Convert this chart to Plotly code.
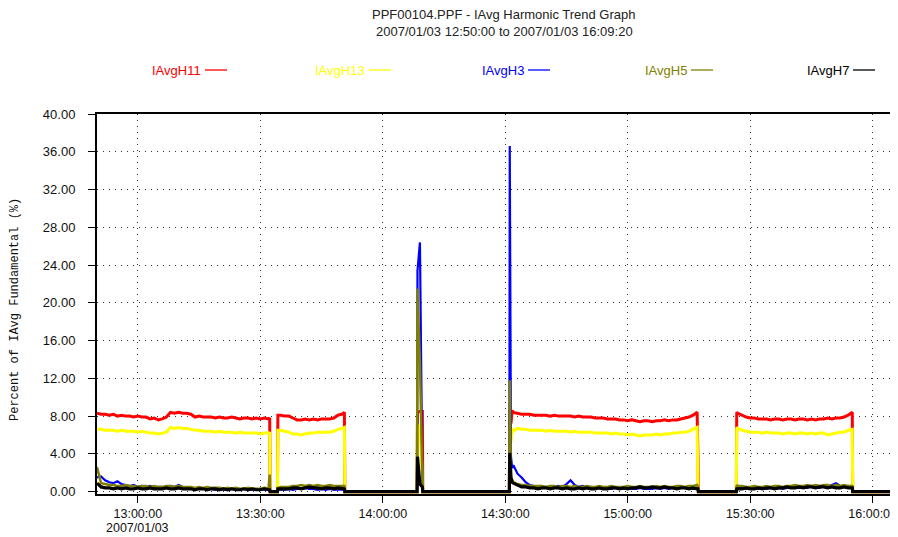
import plotly.graph_objects as go
import pandas as pd

# ---------------- data ----------------
START = "2007-01-03 12:50:00"
# sample times, minutes after 12:50:00 (gaps where the recorder was off)
minutes = (list(range(0, 43)) + [42.3, 42.4] +
           [44.2, 44.3] + list(range(45, 61)) + [60.6, 60.7] +
           [78.4, 78.5, 79.1, 79.7, 79.8] +
           [101.0, 101.1, 101.4, 101.7] + list(range(102, 148)) + [147.2, 147.3] +
           [156.6, 156.7] + list(range(157, 186)) + [185.1, 196])

h11 = [8.3, 8.2, 8.2, 8.1, 8.2, 8.0, 8.1, 8.0, 8.0, 7.9,
       8.0, 7.9, 7.9, 7.7, 7.8, 7.6, 7.7, 7.9, 8.4, 8.3,
       8.4, 8.3, 8.3, 8.2, 7.9, 8.0, 7.9, 7.9, 7.9, 7.8,
       7.9, 7.8, 7.8, 7.9, 7.8, 7.7, 7.8, 7.8, 7.7, 7.8,
       7.7, 7.8, 7.7, 7.8, 0,
       0, 8.1, 8.1, 8.0, 8.0, 7.8, 7.6, 7.6, 7.7, 7.6, 7.7, 7.6, 7.7, 7.7, 7.7, 7.8, 8.1, 8.2, 8.4, 0,
       0, 8.4, 8.5, 8.5, 0,
       0, 8.6, 7.2, 8.6,
       8.4, 8.3, 8.2, 8.2, 8.2, 8.1, 8.1, 8.1, 8.1, 8.0,
       8.1, 8.0, 8.0, 8.0, 8.0, 7.9, 8.0, 7.9, 7.9, 7.9,
       7.8, 7.8, 7.8, 7.7, 7.7, 7.7, 7.6, 7.6, 7.5, 7.6,
       7.5, 7.4, 7.5, 7.5, 7.4, 7.5, 7.5, 7.6, 7.5, 7.6,
       7.6, 7.7, 7.8, 7.9, 8.1, 8.4, 3.6, 0,
       0, 8.4,
       8.3, 8.1, 7.9, 7.8, 7.8, 7.7, 7.7, 7.7, 7.6, 7.7,
       7.7, 7.6, 7.7, 7.7, 7.6, 7.7, 7.7, 7.6, 7.7, 7.6,
       7.7, 7.7, 7.8, 7.7, 7.8, 7.8, 7.9, 8.1, 8.4, 0, 0]

h13 = [6.6, 6.6, 6.5, 6.5, 6.5, 6.4, 6.5, 6.4, 6.4, 6.4,
       6.3, 6.4, 6.3, 6.2, 6.2, 6.1, 6.2, 6.3, 6.8, 6.7,
       6.8, 6.7, 6.7, 6.6, 6.5, 6.5, 6.4, 6.4, 6.4, 6.3,
       6.4, 6.3, 6.3, 6.3, 6.2, 6.3, 6.2, 6.2, 6.2, 6.2,
       6.1, 6.2, 6.2, 6.3, 0,
       0, 6.5, 6.5, 6.4, 6.3, 6.1, 6.1, 6.0, 6.1, 6.2, 6.2, 6.3, 6.3, 6.3, 6.3, 6.4, 6.6, 6.7, 6.8, 0,
       0, 7.0, 6.9, 1.3, 0,
       0, 6.8, 5.3, 6.7,
       6.4, 6.7, 6.6, 6.6, 6.5, 6.5, 6.5, 6.5, 6.4, 6.5,
       6.4, 6.4, 6.4, 6.4, 6.3, 6.4, 6.3, 6.3, 6.3, 6.3,
       6.2, 6.2, 6.2, 6.2, 6.1, 6.2, 6.1, 6.1, 6.0, 6.1,
       6.0, 5.9, 6.0, 6.0, 6.0, 6.1, 6.0, 6.1, 6.1, 6.2,
       6.2, 6.3, 6.3, 6.4, 6.6, 6.8, 0.5, 0,
       0, 6.8,
       6.7, 6.5, 6.4, 6.3, 6.3, 6.3, 6.2, 6.3, 6.2, 6.2,
       6.2, 6.1, 6.2, 6.2, 6.1, 6.2, 6.2, 6.1, 6.2, 6.1,
       6.2, 6.2, 6.0, 6.1, 6.2, 6.3, 6.3, 6.5, 6.6, 0, 0]

h3 = [1.5, 1.6, 1.2, 1.0, 0.9, 1.1, 0.8, 0.7, 0.6, 0.7,
      0.5, 0.6, 0.5, 0.6, 0.4, 0.5, 0.5, 0.4, 0.6, 0.5,
      0.7, 0.5, 0.4, 0.4, 0.3, 0.4, 0.3, 0.4, 0.3, 0.2,
      0.3, 0.2, 0.2, 0.3, 0.2, 0.2, 0.3, 0.2, 0.2, 0.2,
      0.3, 0.2, 0.2, 0.2, 0,
      0, 0.2, 0.2, 0.2, 0.3, 0.2, 0.3, 0.3, 0.4, 0.3, 0.3, 0.2, 0.3, 0.2, 0.3, 0.2, 0.2, 0.2, 0.2, 0,
      0, 23.4, 26.4, 1.0, 0,
      0, 36.6, 3.7, 2.5,
      2.8, 1.9, 1.5, 1.0, 0.7, 0.6, 0.5, 0.4, 0.5, 0.4,
      0.5, 0.6, 0.5, 0.8, 1.2, 0.7, 0.5, 0.6, 0.4, 0.5,
      0.4, 0.4, 0.3, 0.4, 0.3, 0.4, 0.3, 0.3, 0.4, 0.3,
      0.3, 0.4, 0.3, 0.3, 0.3, 0.4, 0.3, 0.4, 0.3, 0.4,
      0.5, 0.4, 0.4, 0.3, 0.3, 0.3, 0.2, 0,
      0, 0.3,
      0.5, 0.4, 0.3, 0.4, 0.3, 0.3, 0.4, 0.3, 0.4, 0.3,
      0.4, 0.3, 0.4, 0.5, 0.4, 0.4, 0.5, 0.4, 0.6, 0.5,
      0.4, 0.6, 0.5, 0.7, 0.9, 0.6, 0.5, 0.6, 0.5, 0, 0]

h5 = [2.6, 0.9, 0.8, 0.7, 0.7, 0.6, 0.6, 0.7, 0.6, 0.6,
      0.5, 0.6, 0.6, 0.5, 0.6, 0.5, 0.5, 0.6, 0.6, 0.5,
      0.6, 0.5, 0.5, 0.5, 0.4, 0.5, 0.4, 0.5, 0.4, 0.4,
      0.4, 0.3, 0.4, 0.3, 0.4, 0.3, 0.3, 0.4, 0.3, 0.3,
      0.3, 0.4, 0.3, 1.8, 0,
      0, 0.4, 0.5, 0.5, 0.5, 0.6, 0.6, 0.7, 0.6, 0.7, 0.6, 0.7, 0.6, 0.6, 0.7, 0.6, 0.6, 0.6, 0.6, 0,
      0, 21.5, 13.6, 1.5, 0,
      0, 11.8, 1.0, 1.3,
      1.0, 0.8, 0.7, 0.7, 0.6, 0.6, 0.6, 0.6, 0.5, 0.6,
      0.6, 0.5, 0.6, 0.6, 0.5, 0.6, 0.5, 0.5, 0.6, 0.5,
      0.5, 0.6, 0.5, 0.5, 0.6, 0.5, 0.5, 0.5, 0.6, 0.5,
      0.5, 0.6, 0.5, 0.5, 0.5, 0.6, 0.5, 0.6, 0.5, 0.5,
      0.6, 0.6, 0.5, 0.6, 0.6, 0.7, 0.5, 0,
      0, 0.7,
      0.6, 0.6, 0.5, 0.5, 0.6, 0.5, 0.5, 0.6, 0.5, 0.6,
      0.6, 0.5, 0.6, 0.6, 0.7, 0.6, 0.6, 0.7, 0.6, 0.7,
      0.6, 0.7, 0.7, 0.6, 0.7, 0.6, 0.7, 0.6, 0.6, 0, 0]

h7 = [0.9, 0.5, 0.4, 0.4, 0.3, 0.4, 0.3, 0.4, 0.3, 0.3,
      0.4, 0.3, 0.3, 0.4, 0.3, 0.3, 0.3, 0.4, 0.3, 0.3,
      0.4, 0.3, 0.3, 0.3, 0.2, 0.3, 0.3, 0.2, 0.3, 0.3,
      0.2, 0.3, 0.2, 0.3, 0.2, 0.2, 0.3, 0.2, 0.3, 0.2,
      0.2, 0.3, 0.2, 0.2, 0,
      0, 0.3, 0.3, 0.3, 0.3, 0.4, 0.4, 0.3, 0.4, 0.5, 0.4, 0.4, 0.3, 0.4, 0.4, 0.3, 0.4, 0.3, 0.3, 0,
      0, 3.7, 0.8, 0.5, 0,
      0, 4.1, 1.5, 1.0,
      0.9, 0.7, 0.5, 0.5, 0.4, 0.4, 0.3, 0.4, 0.4, 0.3,
      0.4, 0.4, 0.3, 0.4, 0.3, 0.3, 0.4, 0.3, 0.4, 0.3,
      0.3, 0.4, 0.3, 0.3, 0.4, 0.4, 0.3, 0.4, 0.3, 0.4,
      0.4, 0.5, 0.4, 0.4, 0.5, 0.4, 0.4, 0.5, 0.4, 0.4,
      0.3, 0.4, 0.4, 0.3, 0.4, 0.3, 0.3, 0,
      0, 0.3,
      0.3, 0.3, 0.4, 0.3, 0.3, 0.4, 0.3, 0.4, 0.4, 0.3,
      0.4, 0.4, 0.5, 0.4, 0.4, 0.5, 0.4, 0.5, 0.5, 0.4,
      0.5, 0.5, 0.4, 0.5, 0.4, 0.4, 0.5, 0.4, 0.4, 0, 0]

series_names = ["IAvgH11", "IAvgH13", "IAvgH3", "IAvgH5", "IAvgH7"]
series_values = [h11, h13, h3, h5, h7]
series_colors = ["#FF0000", "#FFFF00", "#0000FF", "#808000", "#000000"]

x_tick_times = ["13:00:00", "13:30:00", "14:00:00", "14:30:00", "15:00:00", "15:30:00", "16:00:00"]
date_label = "2007/01/03"
y_ticks = [0, 4, 8, 12, 16, 20, 24, 28, 32, 36, 40]

# ---------------- figure ----------------
OFF = 8                      # the page body adds an 8px margin
W, H = 898 - OFF, 537 - OFF  # figure size
L, R, T, B = 97 - OFF, 0, 114 - OFF, 43
FONT = "Liberation Sans, Arial, sans-serif"

def px_x(p):  # page pixel -> paper x
    return (p - OFF - L) / (W - L - R)

def px_y(p):  # page pixel -> paper y
    return (H - B - (p - OFF)) / (H - T - B)

times = pd.Timestamp(START) + pd.to_timedelta(minutes, unit="min")
tick_stamps = [pd.Timestamp("2007-01-03 " + t) for t in x_tick_times]

fig = go.Figure()
widths = [3, 3, 2.2, 2.5, 3.2]
for name, vals, col, w in zip(series_names, series_values, series_colors, widths):
    fig.add_trace(go.Scatter(x=times, y=vals, mode="lines", name=name,
                             line=dict(color=col, width=w), showlegend=False))

annotations = [
    dict(text="PPF00104.PPF - IAvg Harmonic Trend Graph", x=px_x(504), y=px_y(15),
         xref="paper", yref="paper", xanchor="center", yanchor="middle", showarrow=False,
         font=dict(family=FONT, size=13, color="#222")),
    dict(text="2007/01/03 12:50:00 to 2007/01/03 16:09:20", x=px_x(504), y=px_y(31),
         xref="paper", yref="paper", xanchor="center", yanchor="middle", showarrow=False,
         font=dict(family=FONT, size=13, color="#222")),
    dict(text="Percent of IAvg Fundamental (%)", x=px_x(15), y=px_y(310),
         xref="paper", yref="paper", xanchor="center", yanchor="middle", showarrow=False,
         textangle=-90, font=dict(family="Liberation Mono, Courier New, monospace", size=12, color="#111")),
    dict(text=date_label, x=tick_stamps[0], y=px_y(528), xref="x", yref="paper",
         xanchor="center", yanchor="middle", showarrow=False,
         font=dict(family=FONT, size=12.5, color="#111")),
]
shapes = []
legend_text_end = [203, 367, 526, 689, 851]
for name, col, xe in zip(series_names, series_colors, legend_text_end):
    annotations.append(dict(text=name, x=px_x(xe), y=px_y(70), xref="paper", yref="paper",
                            xanchor="right", yanchor="middle", showarrow=False,
                            font=dict(family=FONT, size=13, color=col)))
    shapes.append(dict(type="line", xref="paper", yref="paper",
                       x0=px_x(xe + 2), x1=px_x(xe + 24), y0=px_y(70), y1=px_y(70),
                       line=dict(color=col, width=1.3)))

fig.update_layout(
    width=W, height=H,
    margin=dict(l=L, r=R, t=T, b=B, pad=0, autoexpand=False),
    paper_bgcolor="white", plot_bgcolor="white",
    annotations=annotations, shapes=shapes,
    xaxis=dict(
        automargin=False,
        range=[pd.Timestamp(START), pd.Timestamp("2007-01-03 16:06:12")],
        tickvals=tick_stamps,
        ticktext=x_tick_times,
        ticks="outside", ticklen=7, tickwidth=1, tickcolor="#000",
        showline=True, linecolor="#000", linewidth=2, mirror=True,
        showgrid=True, gridcolor="#333", gridwidth=1, griddash="1px,5px",
        zeroline=False,
        tickfont=dict(family=FONT, size=12.5, color="#111"),
    ),
    yaxis=dict(
        automargin=False,
        range=[-0.25, 40],
        tickvals=y_ticks, tickformat=".2f",
        ticks="outside", ticklen=7, tickwidth=1, tickcolor="#000",
        showline=True, linecolor="#000", linewidth=2, mirror=False,
        showgrid=True, gridcolor="#333", gridwidth=1, griddash="1px,5px",
        zeroline=False,
        ticklabelstandoff=10,
        tickfont=dict(family=FONT, size=13, color="#111"),
    ),
)

fig.write_html("out.html")
